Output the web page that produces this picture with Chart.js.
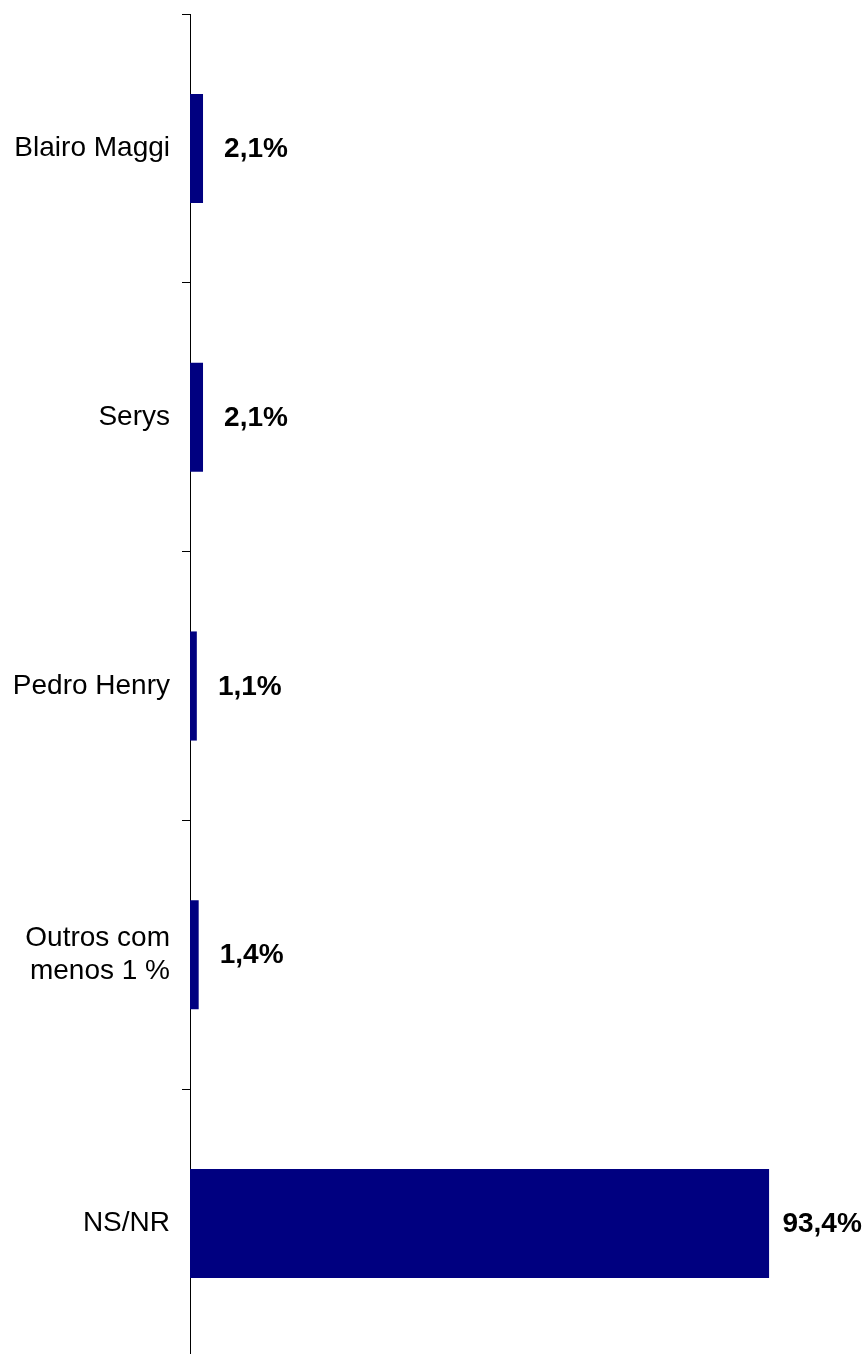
<!DOCTYPE html>
<html>
<head>
<meta charset="utf-8">
<script src="https://cdn.jsdelivr.net/npm/chart.js@4.4.1/dist/chart.umd.min.js"></script>
<style>
  html, body { margin: 0; padding: 0; background: #fff; overflow: hidden; }
  #wrap { position: relative; width: 864px; height: 1400px; margin-top: -14px; }
</style>
</head>
<body>
<div id="wrap"><canvas id="c"></canvas></div>
<script>
const categories = ["Blairo Maggi", "Serys", "Pedro Henry", ["Outros com", "menos 1 %"], "NS/NR"];
const values = [2.1, 2.1, 1.1, 1.4, 93.4];
const valueLabels = ["2,1%", "2,1%", "1,1%", "1,4%", "93,4%"];

const FONT = "'Liberation Sans', Arial, Helvetica, sans-serif";

const labelPlugin = {
  id: 'valueLabels',
  afterDatasetsDraw(chart) {
    const ctx = chart.ctx;
    const meta = chart.getDatasetMeta(0);
    ctx.save();
    ctx.font = "bold 28px " + FONT;
    ctx.fillStyle = "#000";
    ctx.textAlign = "center";
    ctx.textBaseline = "middle";
    meta.data.forEach((bar, i) => {
      ctx.fillText(valueLabels[i], bar.x + 53, bar.y + 1);
    });
    ctx.restore();
  }
};

new Chart(document.getElementById('c'), {
  type: 'bar',
  data: {
    labels: categories,
    datasets: [{
      data: values,
      backgroundColor: '#000080',
      borderWidth: 0,
      categoryPercentage: 1,
      barPercentage: 0.406
    }]
  },
  options: {
    indexAxis: 'y',
    responsive: true,
    maintainAspectRatio: false,
    animation: false,
    layout: { padding: { top: 0, bottom: 0, right: 54, left: 0 } },
    plugins: { legend: { display: false }, tooltip: { enabled: false } },
    scales: {
      x: {
        display: false,
        min: 0,
        max: 100
      },
      y: {
        afterFit(scale) { scale.width = 190; },
        border: { display: true, color: '#000', width: 1 },
        grid: {
          offset: true,
          drawOnChartArea: false,
          drawTicks: true,
          tickLength: 8,
          color: '#000',
          lineWidth: 1
        },
        ticks: {
          padding: 12,
          color: '#000',
          font: { family: FONT, size: 28, lineHeight: 1.15 }
        }
      }
    }
  },
  plugins: [labelPlugin]
});
</script>
</body>
</html>
